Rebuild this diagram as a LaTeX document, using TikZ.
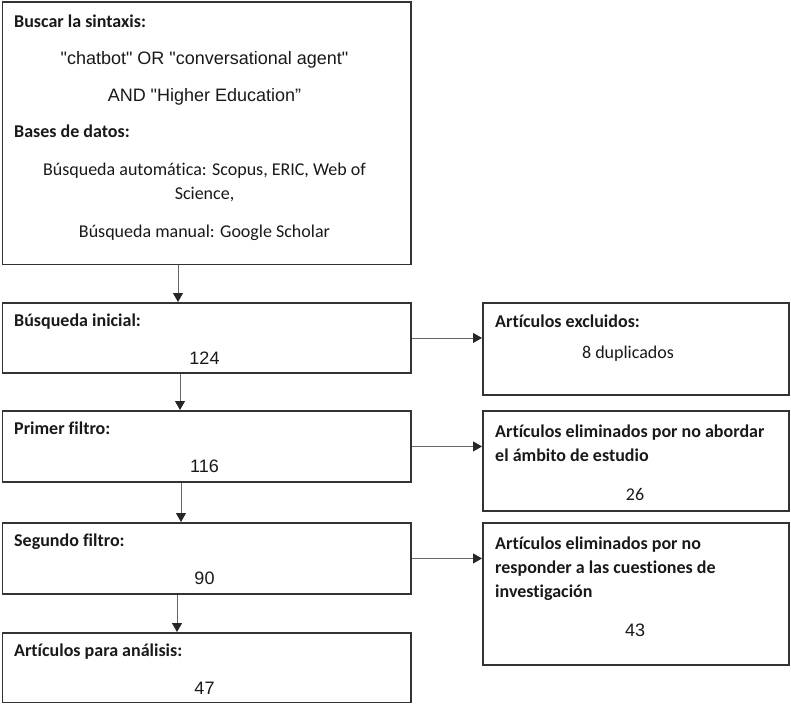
\documentclass[tikz,border=0pt]{standalone}
\usepackage{fontspec}
\setmainfont{Carlito}[Ligatures={TeX,NoCommon}]
\newfontfamily\arial{Liberation Sans}
\usetikzlibrary{arrows.meta}

\begin{document}
\begin{tikzpicture}[x=1pt,y=-1pt,
    caja/.style={draw=black!80, line width=1.9pt, inner sep=0pt, anchor=north west},
    tit/.style={anchor=base west, inner sep=0pt, font=\fontsize{18}{22}\selectfont\bfseries, text=black!90},
    txt/.style={anchor=base, inner sep=0pt, font=\fontsize{18}{22}\selectfont, text=black!90},
    num/.style={anchor=base, inner sep=0pt, font=\fontsize{18}{22}\selectfont\arial, text=black!90},
    flecha/.style={draw=black!60, line width=0.8pt, -{Triangle[length=9pt,width=10pt,color=black!85]}}]
    \def\cx{204.5}
    \def\rx{635}
    \useasboundingbox (0,0) rectangle (791,703);
    % ---- cajas izquierda ----
    \node[caja, minimum width=408.5pt, minimum height=262pt] (b1) at (1.5,1.5) {};
    \node[caja, minimum width=408.5pt, minimum height=70pt] (b2) at (1.5,302) {};
    \node[caja, minimum width=408.5pt, minimum height=71pt] (b3) at (1.5,410) {};
    \node[caja, minimum width=408.5pt, minimum height=71pt] (b4) at (1.5,522) {};
    \node[caja, minimum width=408.5pt, minimum height=69.5pt] (b5) at (1.5,632) {};
    % ---- cajas derecha ----
    \node[caja, minimum width=306pt, minimum height=92pt] (r1) at (482,302) {};
    \node[caja, minimum width=306pt, minimum height=100pt] (r2) at (482,410) {};
    \node[caja, minimum width=306pt, minimum height=142pt] (r3) at (482,522) {};
    % ---- textos caja 1 ----
    \node[tit] (t1) at (14,28) {Buscar la sintaxis:};
    \node[num] (t2) at (\cx,64.5) {"chatbot" OR "conversational agent"};
    \node[num] (t3) at (\cx,102) {AND "Higher Education”};
    \node[tit] (t4) at (14,138) {Bases de datos:};
    \node[txt] (t5) at (\cx,176) {Búsqueda automática: Scopus, ERIC, Web of};
    \node[txt] (t6) at (\cx,200) {Science,};
    \node[txt] (t7) at (\cx,237) {Búsqueda manual: Google Scholar};
    % ---- textos cajas izquierda ----
    \node[tit] (l2) at (14,326) {Búsqueda inicial:};
    \node[num] (n2) at (\cx,364) {124};
    \node[tit] (l3) at (14,434) {Primer filtro:};
    \node[num] (n3) at (\cx,472) {116};
    \node[tit] (l4) at (14,546) {Segundo filtro:};
    \node[num] (n4) at (\cx,584) {90};
    \node[tit] (l5) at (14,656) {Artículos para análisis:};
    \node[num] (n5) at (\cx,694) {47};
    % ---- textos cajas derecha ----
    \node[tit] (q1) at (495,327) {Artículos excluidos:};
    \node[txt] (m1) at (628,358.5) {8 duplicados};
    \node[tit] (q2) at (495,437.5) {Artículos eliminados por no abordar};
    \node[tit] (q2b) at (495,461) {el ámbito de estudio};
    \node[txt] (m2) at (\rx,500) {26};
    \node[tit] (q3) at (495,549) {Artículos eliminados por no};
    \node[tit] (q3b) at (495,573) {responder a las cuestiones de};
    \node[tit] (q3c) at (495,597) {investigación};
    \node[num] (m3) at (\rx,636) {43};
    % ---- flechas ----
    \draw[flecha] ([xshift=176.5pt]b1.south west) -- ([xshift=176.5pt]b2.north west);
    \draw[flecha] ([xshift=178.5pt]b2.south west) -- ([xshift=178.5pt]b3.north west);
    \draw[flecha] ([xshift=179.5pt]b3.south west) -- ([xshift=179.5pt]b4.north west);
    \draw[flecha] ([xshift=175.5pt]b4.south west) -- ([xshift=175.5pt]b5.north west);
    \draw[flecha] (b2.east) -- (b2.east -| r1.west);
    \draw[flecha] (b3.east) -- (b3.east -| r2.west);
    \draw[flecha] (b4.east) -- (b4.east -| r3.west);
\end{tikzpicture}
\end{document}
